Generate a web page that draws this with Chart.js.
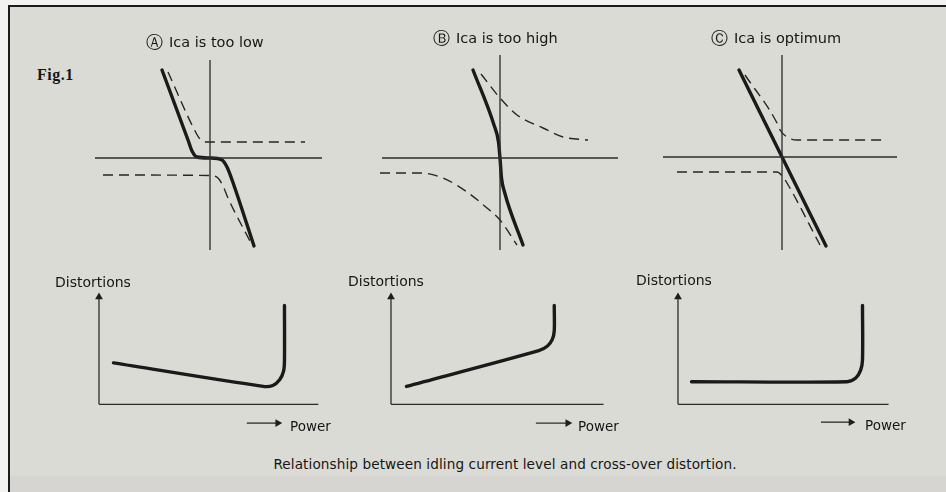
<!DOCTYPE html>
<html>
<head>
<meta charset="utf-8">
<script src="https://cdn.jsdelivr.net/npm/chart.js@4.4.1/dist/chart.umd.min.js"></script>
<style>
  body { margin: 0; width: 946px; height: 492px; background: #f3f3f1; position: relative; overflow: hidden; font-family: "DejaVu Sans", sans-serif; color: #161616; }
  #frame { position: absolute; left: 8px; top: 5px; right: 0; bottom: 0; border-top: 2.5px solid #1c1c1c; border-left: 2.5px solid #1c1c1c; background: #dadbd4; }
  #band { position: absolute; left: 10px; right: 0; top: 476px; bottom: 0; background: #d6d5d2; }
  canvas { position: absolute; }
  .t { position: absolute; white-space: nowrap; line-height: 1; transform: translateY(-50%); }
  .title { font-size: 14.5px; }
  .title span { font-size: 17px; margin-right: 6px; vertical-align: -1px; }
  .dist { font-size: 14px; }
  .pow { font-size: 13.5px; }
  .fig { font-family: "Liberation Serif", serif; font-weight: bold; font-size: 16px; letter-spacing: 0.5px; }
  .cap { font-size: 13.6px; letter-spacing: 0.1px; transform: translate(-50%, -50%); }
</style>
</head>
<body>
<div id="frame"></div>
<div id="band"></div>

<canvas id="topA"></canvas>
<canvas id="topB"></canvas>
<canvas id="topC"></canvas>
<canvas id="botA"></canvas>
<canvas id="botB"></canvas>
<canvas id="botC"></canvas>

<div class="t fig" style="left:37px; top:75px;">Fig.1</div>
<div class="t title" style="left:146px; top:42px;"><span>Ⓐ</span>Ica is too low</div>
<div class="t title" style="left:433px; top:38px;"><span>Ⓑ</span>Ica is too high</div>
<div class="t title" style="left:711px; top:38px;"><span>Ⓒ</span>Ica is optimum</div>

<div class="t dist" style="left:55px; top:282px;">Distortions</div>
<div class="t dist" style="left:348px; top:281px;">Distortions</div>
<div class="t dist" style="left:636px; top:280px;">Distortions</div>

<div class="t pow" style="left:290px; top:427px;">Power</div>
<div class="t pow" style="left:578px; top:427px;">Power</div>
<div class="t pow" style="left:865px; top:426px;">Power</div>

<div class="t cap" style="left:505px; top:465px;">Relationship between idling current level and cross-over distortion.</div>

<script>
// top row: output vs input transfer curves, [input, output] in arbitrary units
const lowAxisH = [[-11.5, 0], [11.2, 0]];
const lowAxisV = [[0, 9.8], [0, -9.2]];
const lowCurve = [[-4.8, 8.8], [-2.2, 1.8], [-1.8, 0.7], [-1.3, 0.1], [0, 0], [1.2, -0.2], [1.7, -0.9], [2.1, -1.9], [4.4, -8.8]];
const lowUpper = [[-4.2, 8.6], [-1.6, 2.9], [-1.0, 1.9], [-0.3, 1.6], [9.5, 1.6]];
const lowLower = [[-10.7, -1.7], [0, -1.75], [0.8, -2.0], [1.3, -2.8], [1.8, -4.0], [4.2, -8.7]];

const highAxisH = [[-11.8, 0], [11.8, 0]];
const highAxisV = [[0, 10.3], [0, -9.2]];
const highCurve = [[-2.7, 8.8], [-0.6, 3.3], [-0.15, 1.6], [0, 0], [0.15, -2.0], [0.45, -3.4], [2.3, -8.7]];
const highUpper = [[-1.9, 8.4], [0, 6.0], [1.7, 4.3], [4.3, 3.0], [6.3, 2.1], [8.8, 1.8]];
const highLower = [[-12, -1.5], [-8, -1.5], [-5.7, -2.0], [-3.3, -3.4], [-1.3, -5.0], [0, -6.2], [1.7, -8.7]];

const optAxisH = [[-11.9, 0], [11.5, 0]];
const optAxisV = [[0, 10.2], [0, -9.3]];
const optCurve = [[-4.3, 8.7], [0, 0], [4.4, -8.9]];
const optUpper = [[-3.7, 8.2], [-0.5, 3.4], [-0.2, 2.7], [0.5, 2.0], [1.5, 1.7], [10.3, 1.7]];
const optLower = [[-10.5, -1.5], [-0.5, -1.5], [0.1, -2.0], [0.5, -2.6], [3.8, -8.8]];

// bottom row: distortion vs power, [power, distortion]
const lowDist = [[1.5, 4.4], [17.0, 1.9], [18.0, 2.0], [18.7, 2.6], [19.1, 3.5], [19.2, 4.6], [19.2, 10.5]];
const highDist = [[1.6, 1.9], [15.3, 5.7], [16.2, 6.2], [16.7, 6.9], [16.9, 7.8], [16.9, 10.5]];
const optDist = [[1.4, 2.4], [17.5, 2.4], [18.4, 2.8], [18.9, 3.6], [19.1, 4.7], [19.1, 10.5]];
const distAxisY = [[0, 0], [0, 11.4]];
const lowAxisX = [[0, 0], [22.7, 0]];
const highAxisX = [[0, 0], [22.0, 0]];
const optAxisX = [[0, 0], [21.8, 0]];
const lowArrow = [[15.3, -2.0], [18.5, -2.0]];
const highArrow = [[15.0, -2.0], [18.3, -2.0]];
const optArrow = [[14.8, -1.9], [17.9, -1.9]];

const PX = 10; // pixels per unit
const INK = '#1a1a1a';

const xy = pts => pts.map(p => ({ x: p[0], y: p[1] }));

function thick(pts, smooth) {
  return {
    data: xy(pts), borderColor: INK, borderWidth: 3.4, pointRadius: 0,
    cubicInterpolationMode: smooth ? 'monotone' : 'default', tension: smooth ? 0 : 0.3,
    borderCapStyle: 'round', borderJoinStyle: 'round', clip: false
  };
}
function dashed(pts) {
  return {
    data: xy(pts), borderColor: '#262626', borderWidth: 1.4, borderDash: [10, 6], pointRadius: 0,
    cubicInterpolationMode: 'monotone', clip: false
  };
}
function axis(pts) {
  return { data: xy(pts), borderColor: '#2b2b2b', borderWidth: 1.3, pointRadius: 0, tension: 0, clip: false };
}
function arrow(pts, rot) {
  return {
    data: xy(pts), borderColor: '#2b2b2b', backgroundColor: '#1e1e1e', borderWidth: 1.3,
    pointStyle: 'triangle', pointRadius: [0, 4.5], pointBorderWidth: 0, pointRotation: rot, tension: 0, clip: false
  };
}

function panel(id, ox, oy, xr, yr, sets) {
  const cv = document.getElementById(id);
  const w = (xr[1] - xr[0]) * PX, h = (yr[1] - yr[0]) * PX;
  cv.width = w; cv.height = h;
  cv.style.width = w + 'px'; cv.style.height = h + 'px';
  cv.style.left = (ox + xr[0] * PX) + 'px';
  cv.style.top = (oy - yr[1] * PX) + 'px';
  new Chart(cv, {
    type: 'line',
    data: { datasets: sets },
    options: {
      responsive: false,
      animation: false,
      events: [],
      layout: { padding: 0 },
      plugins: { legend: { display: false }, tooltip: { enabled: false } },
      scales: {
        x: { type: 'linear', display: false, min: xr[0], max: xr[1] },
        y: { type: 'linear', display: false, min: yr[0], max: yr[1] }
      }
    }
  });
}

const topX = [-12.5, 12.5], topY = [-10, 10.8];
panel('topA', 210, 158, topX, topY, [axis(lowAxisH), axis(lowAxisV), dashed(lowUpper), dashed(lowLower), thick(lowCurve, true)]);
panel('topB', 500, 158, topX, topY, [axis(highAxisH), axis(highAxisV), dashed(highUpper), dashed(highLower), thick(highCurve, true)]);
panel('topC', 782, 157, topX, topY, [axis(optAxisH), axis(optAxisV), dashed(optUpper), dashed(optLower), thick(optCurve, true)]);

const botX = [-1.5, 25], botY = [-3, 12.2];
panel('botA', 95, 407, botX, botY, [axis(lowAxisX), arrow(distAxisY, 0), arrow(lowArrow, 90), thick(lowDist, false)]);
panel('botB', 387, 407, botX, botY, [axis(highAxisX), arrow(distAxisY, 0), arrow(highArrow, 90), thick(highDist, false)]);
panel('botC', 674, 407, botX, botY, [axis(optAxisX), arrow(distAxisY, 0), arrow(optArrow, 90), thick(optDist, false)]);
</script>
</body>
</html>
